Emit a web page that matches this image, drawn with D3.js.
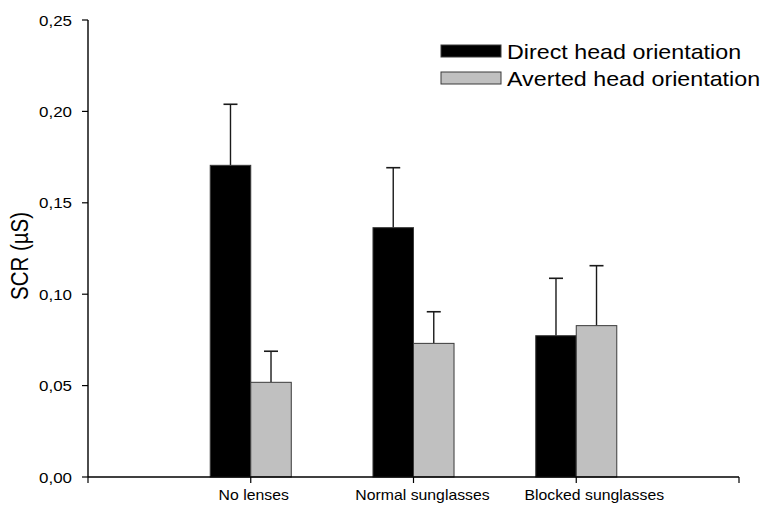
<!DOCTYPE html>
<html>
<head>
<meta charset="utf-8">
<script src="https://cdn.jsdelivr.net/npm/d3@7"></script>
<style>
  html, body { margin: 0; padding: 0; background: #fff; }
  svg { display: block; font-family: "Liberation Sans", Arial, sans-serif; }
</style>
</head>
<body>
<svg id="chart" width="761" height="505"></svg>
<script>
// Skin conductance response by lens condition and head orientation
const categories = ["No lenses", "Normal sunglasses", "Blocked sunglasses"];
const seriesNames = ["Direct head orientation", "Averted head orientation"];
const directMean = [0.1705, 0.1364, 0.0773];
const directUpper = [0.2039, 0.1692, 0.1087];
const avertedMean = [0.0518, 0.0731, 0.0828];
const avertedUpper = [0.0688, 0.0904, 0.1156];
const yTicks = [0, 0.05, 0.10, 0.15, 0.20, 0.25];
const yLabel = "SCR (µS)";

// layout
const labelNudge = [3, 9, 18];
const seriesFill = ["#000000", "#c0c0c0"];
const textStretch = 1.13;

const svg = d3.select("#chart");
const y = d3.scaleLinear().domain([0, 0.25]).range([477, 20]);
const x = d3.scaleLinear().domain([0, categories.length + 1]).range([88, 739]);
const step = x(1) - x(0);
const barW = step * 0.249;

const comma = d3.formatLocale({ decimal: ",", thousands: ".", grouping: [3], currency: ["", ""] }).format(".2f");

// stretched text helper
function label(g, txt, tx, ty, size, anchor) {
  return g.append("text")
    .attr("transform", `translate(${tx},${ty}) scale(${textStretch},1)`)
    .attr("text-anchor", anchor)
    .attr("font-size", size)
    .attr("fill", "#000")
    .text(txt);
}

// bars
const series = [
  { mean: directMean, upper: directUpper, offset: -1 },
  { mean: avertedMean, upper: avertedUpper, offset: 0 }
];
series.forEach((s, si) => {
  const g = svg.append("g");
  categories.forEach((c, i) => {
    const cx = x(i + 1);
    const left = cx + s.offset * barW;
    // error bar (upper only)
    const mid = left + barW / 2;
    g.append("line")
      .attr("x1", mid).attr("x2", mid)
      .attr("y1", y(s.mean[i])).attr("y2", y(s.upper[i]))
      .attr("stroke", "#1a1a1a").attr("stroke-width", 1.4);
    g.append("line")
      .attr("x1", mid - 7).attr("x2", mid + 7)
      .attr("y1", y(s.upper[i])).attr("y2", y(s.upper[i]))
      .attr("stroke", "#1a1a1a").attr("stroke-width", 1.6);
    g.append("rect")
      .attr("x", left).attr("width", barW)
      .attr("y", y(s.mean[i])).attr("height", y(0) - y(s.mean[i]))
      .attr("fill", seriesFill[si])
      .attr("stroke", "#3a3a3a").attr("stroke-width", 1);
  });
});

// y axis
const yAxis = svg.append("g");
yAxis.append("line").attr("x1", x(0)).attr("x2", x(0)).attr("y1", y(0.25)).attr("y2", y(0))
  .attr("stroke", "#000").attr("stroke-width", 1.4);
yTicks.forEach(t => {
  yAxis.append("line").attr("x1", x(0) - 6).attr("x2", x(0)).attr("y1", y(t)).attr("y2", y(t))
    .attr("stroke", "#000").attr("stroke-width", 1.2);
  label(yAxis, comma(t), x(0) - 16, y(t) + 5.5, 15, "end");
});

// x axis
const xAxis = svg.append("g");
xAxis.append("line").attr("x1", x(0)).attr("x2", x(categories.length + 1)).attr("y1", y(0)).attr("y2", y(0))
  .attr("stroke", "#000").attr("stroke-width", 1.4);
d3.range(categories.length + 2).forEach(i => {
  xAxis.append("line").attr("x1", x(i)).attr("x2", x(i)).attr("y1", y(0)).attr("y2", y(0) + 6)
    .attr("stroke", "#000").attr("stroke-width", 1.2);
});
categories.forEach((c, i) => {
  label(xAxis, c, x(i + 1) + labelNudge[i], 500, 14, "middle");
});

// y axis title
svg.append("text")
  .attr("transform", `translate(28,256) rotate(-90) scale(1,${textStretch})`)
  .attr("text-anchor", "middle")
  .attr("font-size", 20.5)
  .text(yLabel);

// legend
const legend = svg.append("g");
seriesNames.forEach((n, i) => {
  const ly = 45 + i * 27;
  legend.append("rect")
    .attr("x", 441).attr("y", ly).attr("width", 60).attr("height", 12)
    .attr("fill", seriesFill[i]).attr("stroke", "#3a3a3a").attr("stroke-width", 1);
  label(legend, n, 507, ly + 14, 20.6, "start");
});
</script>
</body>
</html>
